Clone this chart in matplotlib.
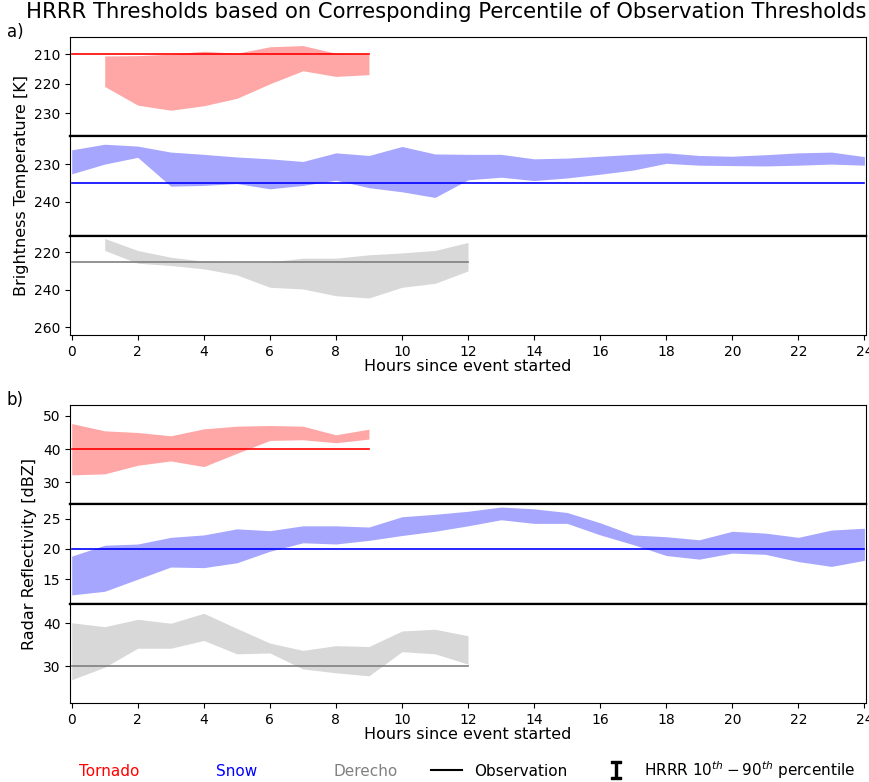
import matplotlib
matplotlib.use('Agg')
import matplotlib.pyplot as plt
from matplotlib.lines import Line2D

hours = list(range(25))
events = ['Tornado', 'Snow', 'Derecho']
colors = ['red', 'blue', 'grey']

# brightness temperature [K], 10th / 90th percentile edges of HRRR band
bt_obs = [210, 235, 225]
bt_torn_lo = [210.6, 210.5, 210.0, 209.0, 209.7, 207.5, 207.1, 209.7, 210.0]
bt_torn_hi = [220.9, 227.2, 228.9, 227.4, 224.9, 220.0, 215.6, 217.5, 216.9]
bt_snow_lo = [226.2, 224.7, 225.2, 226.8, 227.4, 228.1, 228.6, 229.3, 227.0, 227.7, 225.3, 227.3,
              227.4, 227.4, 228.6, 228.4, 227.9, 227.4, 227.0, 227.7, 227.9, 227.5, 227.0, 226.8, 228.0]
bt_snow_hi = [232.6, 230.0, 228.2, 235.9, 235.7, 235.2, 236.6, 235.7, 234.3, 236.3, 237.4, 238.9,
              234.2, 233.5, 234.4, 233.7, 232.7, 231.6, 229.8, 230.3, 230.4, 230.5, 230.3, 230.0, 230.3]
bt_dere_lo = [212.7, 219.1, 222.7, 224.8, 225.2, 225.2, 223.2, 223.2, 221.4, 220.4, 219.1, 214.8]
bt_dere_hi = [219.1, 225.9, 227.1, 228.9, 232.1, 238.7, 239.6, 243.2, 244.4, 238.7, 236.6, 230.0]

# radar reflectivity [dBZ]
dbz_obs = [40, 20, 30]
dbz_torn_lo = [32.2, 32.5, 35.1, 36.4, 34.7, 38.7, 42.6, 42.8, 41.9, 43.0]
dbz_torn_hi = [47.7, 45.5, 45.0, 44.0, 46.1, 46.9, 47.1, 46.9, 44.3, 46.0]
dbz_snow_lo = [12.4, 13.0, 15.0, 17.0, 16.9, 17.7, 19.6, 21.0, 20.8, 21.4, 22.2, 22.9,
               23.8, 24.8, 24.2, 24.2, 22.3, 20.7, 18.9, 18.3, 19.3, 19.1, 17.9, 17.1, 18.1]
dbz_snow_hi = [18.8, 20.6, 20.8, 21.9, 22.3, 23.3, 23.0, 23.8, 23.8, 23.6, 25.3, 25.7,
               26.2, 26.9, 26.6, 26.0, 24.3, 22.3, 22.0, 21.5, 22.9, 22.6, 21.9, 23.1, 23.4]
dbz_dere_lo = [26.9, 29.8, 34.2, 34.2, 36.0, 32.9, 33.1, 29.4, 28.5, 27.8, 33.4, 32.9, 30.5]
dbz_dere_hi = [40.1, 39.2, 40.9, 40.0, 42.3, 38.8, 35.4, 33.7, 34.8, 34.6, 38.2, 38.6, 37.1]

x_ticks = list(range(0, 25, 2))
bt_yticks = [[210, 220, 230], [230, 240], [220, 240, 260]]
dbz_yticks = [[30, 40, 50], [15, 20, 25], [30, 40]]
bt_ylims = [(237.6, 204.2), (249.2, 222.5), (264.1, 211.4)]
dbz_ylims = [(23.4, 53.3), (10.9, 27.4), (21.5, 44.45)]


def draw_panel(fig, tops, bands, obs, yticks, ylims, ylabel, tag):
	axes = []
	for i in range(3):
		lo, hi, start = bands[i]
		ax = fig.add_axes([0.0806, tops[i + 1], 0.916, tops[i] - tops[i + 1]])
		x = hours[start:start + len(lo)]
		ax.fill_between(x, lo, hi, color=colors[i], alpha=0.35 if i < 2 else 0.3, lw=0)
		x_obs = hours[:start + len(lo)]
		ax.plot(x_obs, [obs[i]] * len(x_obs), color=colors[i], lw=1.2)
		ax.set_xlim(-0.05, 24.05)
		ax.set_ylim(*ylims[i])
		ax.set_yticks(yticks[i])
		ax.set_xticks(x_ticks)
		ax.tick_params(labelsize=10)
		if i < 2:
			ax.tick_params(axis='x', bottom=False, labelbottom=False)
			ax.spines['bottom'].set_linewidth(1.6)
		if i > 0:
			ax.spines['top'].set_linewidth(1.6)
		axes.append(ax)
	axes[1].set_ylabel(ylabel, fontsize=11.5)
	axes[2].set_xlabel('Hours since event started', fontsize=11.5, labelpad=0.5)
	fig.text(0.008, tops[0] - 0.005, tag, fontsize=12, va='bottom')
	return axes


fig = plt.figure(figsize=(8.69, 7.82), dpi=100)

draw_panel(fig, [0.9527, 0.8261, 0.6982, 0.5716],
	[(bt_torn_lo, bt_torn_hi, 1), (bt_snow_lo, bt_snow_hi, 0), (bt_dere_lo, bt_dere_hi, 1)],
	bt_obs, bt_yticks, bt_ylims, 'Brightness Temperature [K]', 'a)')
draw_panel(fig, [0.4821, 0.3555, 0.2276, 0.1010],
	[(dbz_torn_lo, dbz_torn_hi, 0), (dbz_snow_lo, dbz_snow_hi, 0), (dbz_dere_lo, dbz_dere_hi, 0)],
	dbz_obs, dbz_yticks, dbz_ylims, 'Radar Reflectivity [dBZ]', 'b)')

fig.suptitle('HRRR Thresholds based on Corresponding Percentile of Observation Thresholds',
	fontsize=15.2, y=0.997, x=0.514)

handles = [Line2D([], [], color='none') for e in events]
handles.append(Line2D([], [], color='k', lw=1.5))
handles.append(Line2D([], [], color='k', ls='none', marker=r'$\mathtt{I}$', markersize=13))
labels = events + ['Observation', r'HRRR $10^{th} - 90^{th}$ percentile']
leg = fig.legend(handles, labels, loc='lower center', ncol=5, frameon=False,
	fontsize=11, bbox_to_anchor=(0.513, -0.016), columnspacing=2.2, handlelength=2)
for txt, c in zip(leg.get_texts(), colors):
	txt.set_color(c)

fig.savefig('out.png', dpi=100)
